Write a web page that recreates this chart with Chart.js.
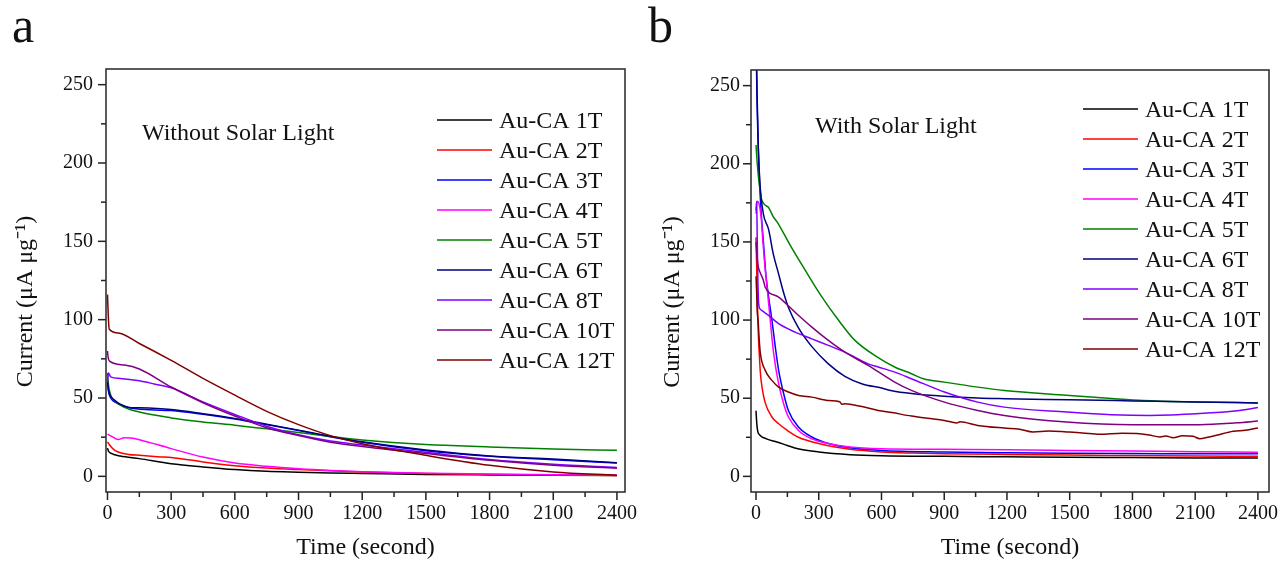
<!DOCTYPE html>
<html><head><meta charset="utf-8">
<script src="https://cdn.jsdelivr.net/npm/chart.js@4.4.1/dist/chart.umd.min.js"></script>
<style>
html,body{margin:0;padding:0;background:#fff;}
#wrap{position:relative;width:1279px;height:562px;overflow:hidden;background:#fff;}
#ca{position:absolute;left:0;top:0;}
#cb{position:absolute;left:640px;top:0;}
</style></head><body>
<div id="wrap"><canvas id="ca" width="640" height="562"></canvas><canvas id="cb" width="639" height="562"></canvas></div>
<script>
// ---- labels, colours, ticks ----
const seriesLabels = ['Au-CA 1T','Au-CA 2T','Au-CA 3T','Au-CA 4T','Au-CA 5T','Au-CA 6T','Au-CA 8T','Au-CA 10T','Au-CA 12T'];
const seriesColors = ['#000000','#ff0000','#0000ff','#ff00ff','#008000','#000080','#8000ff','#800080','#800000'];
const timeTicks = [0,300,600,900,1200,1500,1800,2100,2400];
const currentTicks = [0,50,100,150,200,250];
const panelLetters = ['a','b'];
const panelNotes = ['Without Solar Light','With Solar Light'];
const xTitle = 'Time (second)';
const yTitle = 'Current (\u03bcA \u03bcg\u207b\u00b9)';

// ---- panel a: without solar light  [time (s), current] ----
const dark1T = [[0,18],[5,16],[20,14.5],[60,13],[150,11.3],[300,8.1],[450,6],[600,4.3],[750,3.2],[900,2.6],[1050,2.1],[1200,1.8],[1500,1.2],[1800,0.9],[2100,0.7],[2400,0.5]];
const dark2T = [[0,22],[10,20],[30,17],[50,15.5],[100,14],[150,13.4],[250,12.4],[300,12],[450,9.2],[600,6.8],[750,5.3],[900,4.3],[1050,3.5],[1200,2.8],[1500,1.8],[1800,1.2],[2100,0.8],[2400,0.6]];
const dark3T = [[0,60],[5,54],[15,50],[40,47],[100,44],[200,42.5],[300,42],[450,39.6],[600,36.6],[750,33],[900,29.2],[1050,25.3],[1200,21.7],[1500,16.3],[1800,12.8],[2100,10.6],[2400,8.5]];
const dark4T = [[0,27],[20,25.5],[50,23.5],[80,24.7],[110,24.5],[150,23.4],[300,17.7],[450,12.3],[600,8.5],[750,6.4],[900,4.9],[1050,3.8],[1200,3],[1500,2],[1800,1.5],[2100,1],[2400,0.8]];
const dark5T = [[0,66],[5,58],[15,52],[30,48.6],[80,44],[150,41],[300,37.3],[450,34.7],[600,32.6],[750,30.3],[900,28],[1050,25.5],[1200,23.2],[1500,20.3],[1800,18.8],[2100,17.5],[2400,16.6]];
const dark6T = [[0,61],[5,55],[15,51],[30,49],[60,46],[100,44],[150,43.7],[300,42.6],[450,40],[600,37],[750,33.3],[900,29.5],[1050,25.5],[1200,22],[1500,16.8],[1800,13],[2100,11],[2400,8.7]];
const dark8T = [[0,60],[4,66],[15,63.5],[60,62.5],[150,61],[220,59],[300,56.5],[450,47.5],[600,39.5],[750,32],[900,26.5],[1050,22.5],[1200,20],[1500,15.3],[1800,10.7],[2100,7.7],[2400,5.7]];
const dark10T = [[0,80],[3,76],[10,73.5],[80,71],[150,68.5],[300,57],[450,47],[600,38.5],[750,31],[900,26],[1050,21.8],[1200,19],[1500,14.5],[1800,10.2],[2100,7.1],[2400,5.1]];
const dark12T = [[0,116],[3,105],[8,94],[50,91.5],[150,84.8],[300,74],[450,62.5],[600,51.8],[750,41.5],[900,33],[1050,26],[1200,20.8],[1500,13.4],[1800,7],[2100,2.8],[2400,0.6]];

// ---- panel b: with solar light ----
const light1T = [[0,42],[3,35],[8,29],[20,26.2],[50,24],[100,22],[150,19.8],[200,17.7],[300,15.6],[450,13.9],[600,13.2],[900,12.8],[1200,12.5],[1500,12.2],[1800,12],[2100,11.8],[2400,11.7]];
const light2T = [[0,153],[3,135],[6,115],[10,95],[15,80],[21,66],[30,56],[44,47],[76,38],[108,33.7],[150,29.4],[203,25],[300,21],[450,17.3],[600,15.6],[750,14.9],[900,14.5],[1200,14],[1500,13.6],[1800,13.3],[2100,13],[2400,12.8]];
const light3T = [[0,280],[5,240],[13,202],[21,177],[37,147],[48,128],[60,115],[76,100],[92,83],[108,68],[132,53],[155,42],[203,31.6],[267,25.2],[346,21],[450,18.3],[600,16.6],[900,15.6],[1200,15.1],[1500,14.8],[1800,14.6],[2100,14.5],[2400,14.4]];
const light4T = [[0,168],[6,176],[15,174],[25,165],[33,150],[42,135],[52,122],[68,100],[84,79],[108,59.3],[132,46.5],[155,38],[203,29.4],[267,24],[346,21],[450,18.8],[600,17.7],[900,17.3],[1200,17],[1500,16.6],[1800,16.2],[2100,15.8],[2400,15.5]];
const light5T = [[0,212],[6,200],[13,190],[25,178],[40,174],[60,172],[83,166],[100,163],[163,148],[235,132],[314,115],[394,100],[473,87],[584,76],[663,70],[743,65.7],[800,62.5],[901,60.3],[1060,57.1],[1187,55],[1485,51.9],[1700,49.8],[1852,48.5],[2100,47.6],[2400,47]];
const light6T = [[0,290],[5,245],[11,210],[20,185],[35,168],[60,158],[83,142],[105,131],[131,118],[155,108],[203,95],[267,83],[346,72],[425,64],[505,59.3],[600,56.5],[650,54.8],[743,53],[900,51.2],[1060,50.1],[1190,49.7],[1500,49],[1800,48.3],[2100,47.6],[2400,47]];
const light8T = [[0,170],[3,176],[6,150],[9,125],[13,110],[20,107],[29,106],[60,103],[108,97.7],[187,92.3],[267,88],[346,83.8],[425,79.5],[536,72],[584,70],[663,66.7],[743,62.5],[901,54],[1060,47.5],[1187,44.3],[1485,41.2],[1700,39.5],[1883,39],[2122,40.2],[2300,42],[2400,44]];
const light10T = [[0,150],[5,140],[11,134],[21,130],[35,125.5],[44,121],[108,114.7],[187,105],[267,95.5],[346,87],[425,79.5],[536,71],[663,60.3],[743,55],[901,47.5],[1060,42.2],[1187,39],[1485,34.8],[1804,33.1],[2122,33.1],[2300,34.3],[2400,35.4]];
const light12T = [[0,128],[3,118],[6,105],[10,99.8],[15,88],[21,78.5],[44,67.8],[76,61.4],[108,57.1],[155,54],[203,51.8],[267,50.7],[350,48.5],[400,47.8],[410,46.2],[425,46.5],[500,44.8],[584,42.2],[650,40.8],[743,38.6],[820,37.2],[901,35.8],[960,34.2],[975,35],[1060,32.6],[1187,30.9],[1260,30.2],[1325,28.4],[1400,29],[1485,28.4],[1560,27.8],[1644,26.9],[1750,27.6],[1835,27.3],[1880,26.5],[1931,25.2],[1960,25.8],[1995,24.7],[2040,26],[2090,25.6],[2122,24.1],[2160,25],[2202,26.3],[2282,28.9],[2340,29.5],[2400,30.9]];

const darkSeries = [dark1T,dark2T,dark3T,dark4T,dark5T,dark6T,dark8T,dark10T,dark12T];
const lightSeries = [light1T,light2T,light3T,light4T,light5T,light6T,light8T,light10T,light12T];

const FONT = "'Liberation Serif','Times New Roman',serif";
const INK = '#111';

function makeDatasets(series){
  return series.map((pts,i)=>({
    label: seriesLabels[i],
    data: pts.map(p=>({x:p[0],y:p[1]})),
    borderColor: seriesColors[i],
    backgroundColor: seriesColors[i],
    borderWidth: 1.5,
    pointRadius: 0,
    fill: false,
    cubicInterpolationMode: 'monotone',
    order: series.length - 1 - i
  }));
}

function decor(cfg){
  return {
    id: 'decor',
    afterDraw(chart){
      const {ctx, chartArea:a, scales:{x,y}} = chart;
      ctx.save();
      ctx.strokeStyle = '#222';
      ctx.lineWidth = 1.5;
      x.ticks.forEach(t=>{
        const px = x.getPixelForValue(t.value);
        const len = timeTicks.includes(t.value) ? 8 : 5;
        ctx.beginPath(); ctx.moveTo(px, a.bottom); ctx.lineTo(px, a.bottom + len); ctx.stroke();
      });
      y.ticks.forEach(t=>{
        const py = y.getPixelForValue(t.value);
        const len = currentTicks.includes(t.value) ? 8 : 5;
        ctx.beginPath(); ctx.moveTo(a.left, py); ctx.lineTo(a.left - len, py); ctx.stroke();
      });
      ctx.strokeStyle = '#333';
      ctx.lineWidth = 1.6;
      ctx.strokeRect(a.left, a.top, a.right - a.left, a.bottom - a.top);
      ctx.font = '24px ' + FONT;
      ctx.textBaseline = 'alphabetic';
      ctx.textAlign = 'left';
      chart.data.datasets.forEach((ds,i)=>{
        const yy = a.top + cfg.legTop + i*30;
        ctx.strokeStyle = ds.borderColor;
        ctx.lineWidth = 1.5;
        ctx.beginPath(); ctx.moveTo(a.left + cfg.legX, yy); ctx.lineTo(a.left + cfg.legX + 55, yy); ctx.stroke();
        ctx.fillStyle = INK;
        ctx.fillText(ds.label, a.left + cfg.legX + 62, yy + 8);
      });
      ctx.fillStyle = INK;
      ctx.font = '24px ' + FONT;
      ctx.fillText(cfg.note, a.left + cfg.noteX, a.top + cfg.noteY);
      ctx.font = '50px ' + FONT;
      ctx.fillText(cfg.letter, cfg.letterX, 42);
      ctx.restore();
    }
  };
}

function makeChart(id, series, cfg){
  return new Chart(document.getElementById(id), {
    type: 'line',
    data: { datasets: makeDatasets(series) },
    options: {
      responsive: false,
      animation: false,
      layout: { padding: { left: 0, right: cfg.padRight, top: cfg.padTop, bottom: 0 } },
      plugins: { legend: { display: false }, tooltip: { enabled: false } },
      scales: {
        x: {
          type: 'linear', min: cfg.xMin, max: cfg.xMax,
          grid: { display: false, drawTicks: false },
          border: { display: false },
          afterFit: s => { s.height = 562 - 492; s.paddingLeft = 0; s.paddingRight = 0; },
          ticks: {
            stepSize: 150, autoSkip: false, maxRotation: 0, minRotation: 0, includeBounds: false,
            padding: 10, color: INK, font: { family: FONT, size: 20 },
            callback: v => timeTicks.includes(v) ? String(v) : ''
          },
          title: { display: true, text: xTitle, color: INK, font: { family: FONT, size: 24 }, padding: { top: 0, bottom: 0 } }
        },
        y: {
          type: 'linear', min: -10, max: 260,
          grid: { display: false, drawTicks: false },
          border: { display: false },
          afterFit: s => { s.width = cfg.yWidth; s.paddingTop = 0; s.paddingBottom = 0; },
          ticks: {
            stepSize: 25, autoSkip: false, includeBounds: false,
            padding: cfg.yPad, color: INK, font: { family: FONT, size: 20 },
            callback: v => currentTicks.includes(v) ? String(v) : ''
          },
          title: { display: true, text: yTitle + '\u00a0\u00a0\u00a0\u00a0\u00a0\u00a0\u00a0', color: INK, font: { family: FONT, size: 24 }, padding: { top: cfg.yTitlePad, bottom: 0 } }
        }
      }
    },
    plugins: [decor(cfg)]
  });
}

makeChart('ca', darkSeries, {
  xMin: -7, xMax: 2438, padRight: 15, padTop: 69, yWidth: 106, yPad: 13, yTitlePad: 11,
  legX: 331, legTop: 51, note: panelNotes[0], noteX: 36, noteY: 71, letter: panelLetters[0], letterX: 12
});
makeChart('cb', lightSeries, {
  xMin: -24, xMax: 2453, padRight: 10, padTop: 70, yWidth: 111, yPad: 11, yTitlePad: 18,
  legX: 332, legTop: 39, note: panelNotes[1], noteX: 64, noteY: 63, letter: panelLetters[1], letterX: 8
});
</script>
</body></html>
